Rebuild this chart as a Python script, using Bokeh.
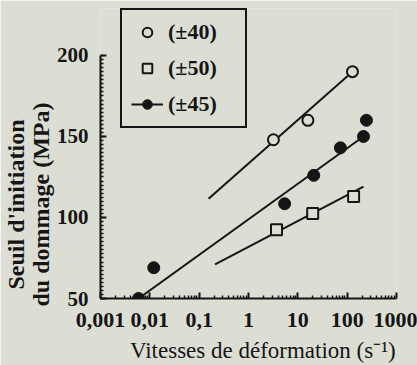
import numpy as np
from bokeh.plotting import figure
from bokeh.models import Range1d, FixedTicker, Legend, LegendItem
from bokeh.embed import file_html
from bokeh.resources import INLINE

# ---- data ----
rate_40 = [3.2, 16, 128]
stress_40 = [148, 160, 190]
fit_rate_40 = [0.155, 128]
fit_stress_40 = [111.5, 190]

rate_50 = [3.7, 20, 135]
stress_50 = [92.5, 102.5, 113]
fit_rate_50 = [0.21, 214]
fit_stress_50 = [71, 119]

rate_45 = [0.0059, 0.012, 5.4, 21, 73, 214, 246]
stress_45 = [50, 69, 108.5, 126, 143, 150, 160]
fit_rate_45 = [0.0059, 214]
fit_stress_45 = [50, 150]

x_ticks = [0.001, 0.01, 0.1, 1, 10, 100, 1000]
x_tick_labels = ["0,001", "0,01", "0,1", "1", "10", "100", "1000"]
y_ticks = [50, 100, 150, 200]
series_labels = ["(\u00b140)", "(\u00b150)", "(\u00b145)"]

BG = "#dcded4"
INK = "#151515"
FONT = "Liberation Serif"
NBSP = "\u00a0"

# frame is taller than the y axis so that the legend (above 200 MPa) is not clipped
p = figure(width=417, height=365, output_backend="svg", toolbar_location=None,
           x_axis_type="log", x_range=Range1d(0.001, 1000), y_range=Range1d(50, 229),
           min_border_left=100, min_border_right=21, min_border_top=8, min_border_bottom=67)
p.background_fill_color = BG
p.border_fill_color = BG
p.outline_line_color = None
p.grid.visible = False

# fit lines
p.line(fit_rate_40, fit_stress_40, line_color=INK, line_width=2)
p.line(fit_rate_50, fit_stress_50, line_color=INK, line_width=2)
l45 = p.line(fit_rate_45, fit_stress_45, line_color=INK, line_width=2)

r40 = p.scatter(rate_40, stress_40, marker="circle", size=11, line_color=INK,
                line_width=2, fill_color=BG)
r50 = p.scatter(rate_50, stress_50, marker="square", size=11, line_color=INK,
                line_width=2, fill_color=BG)
r45 = p.scatter(rate_45, stress_45, marker="circle", size=12, line_color=INK,
                fill_color=INK)

# axes
minor_x = [m * 10.0 ** e for e in range(-3, 3) for m in range(2, 10)]
p.xaxis.ticker = FixedTicker(ticks=x_ticks, minor_ticks=minor_x)
p.xaxis.major_label_overrides = dict(zip(x_ticks, x_tick_labels))
p.yaxis.ticker = FixedTicker(ticks=y_ticks, minor_ticks=list(np.arange(50, 200.1, 2.5)))
p.yaxis.bounds = (50, 200)

for ax in (p.xaxis, p.yaxis):
    ax.axis_line_width = 2
    ax.axis_line_color = INK
    ax.major_tick_line_color = INK
    ax.minor_tick_line_color = INK
    ax.major_tick_line_width = 2
    ax.minor_tick_line_width = 1.5
    ax.major_tick_in = 6
    ax.major_tick_out = 0
    ax.minor_tick_in = 3
    ax.minor_tick_out = 0
    ax.major_label_text_font = FONT
    ax.major_label_text_font_style = "bold"
    ax.major_label_text_color = INK
    ax.axis_label_text_font = FONT
    ax.axis_label_text_color = INK

p.xaxis.major_label_text_font_size = "22px"
p.yaxis.major_label_text_font_size = "21px"

p.xaxis.axis_label = NBSP * 5 + "Vitesses de déformation (s\u207b\u00b9)"
p.xaxis.axis_label_text_font_style = "normal"
p.xaxis.axis_label_text_font_size = "23px"
p.xaxis.major_label_standoff = 14
p.xaxis.axis_label_standoff = 8

pad = NBSP * 17
p.yaxis.axis_label = "Seuil d'initiation" + pad + "\n" + "du dommage (MPa)" + pad
p.yaxis.axis_label_text_font_style = "bold"
p.yaxis.axis_label_text_font_size = "24px"
p.yaxis.axis_label_text_line_height = 0.95
p.yaxis.major_label_standoff = 12
p.yaxis.axis_label_standoff = 0

legend = Legend(items=[
    LegendItem(label=series_labels[0] + NBSP * 2, renderers=[r40]),
    LegendItem(label=series_labels[1] + NBSP * 2, renderers=[r50]),
    LegendItem(label=series_labels[2] + NBSP * 2, renderers=[l45, r45]),
], location=(20, 170))
legend.border_line_color = INK
legend.border_line_alpha = 1.0
legend.border_line_width = 2
legend.background_fill_alpha = 0
legend.label_text_font = FONT
legend.label_text_font_style = "bold"
legend.label_text_font_size = "22px"
legend.label_text_color = INK
legend.glyph_width = 32
legend.glyph_height = 24
legend.label_height = 24
legend.label_width = 68
legend.label_standoff = 5
legend.spacing = 10
legend.padding = 9
legend.margin = 0
p.add_layout(legend, "center")

open("out.html", "w").write(file_html(p, INLINE))
